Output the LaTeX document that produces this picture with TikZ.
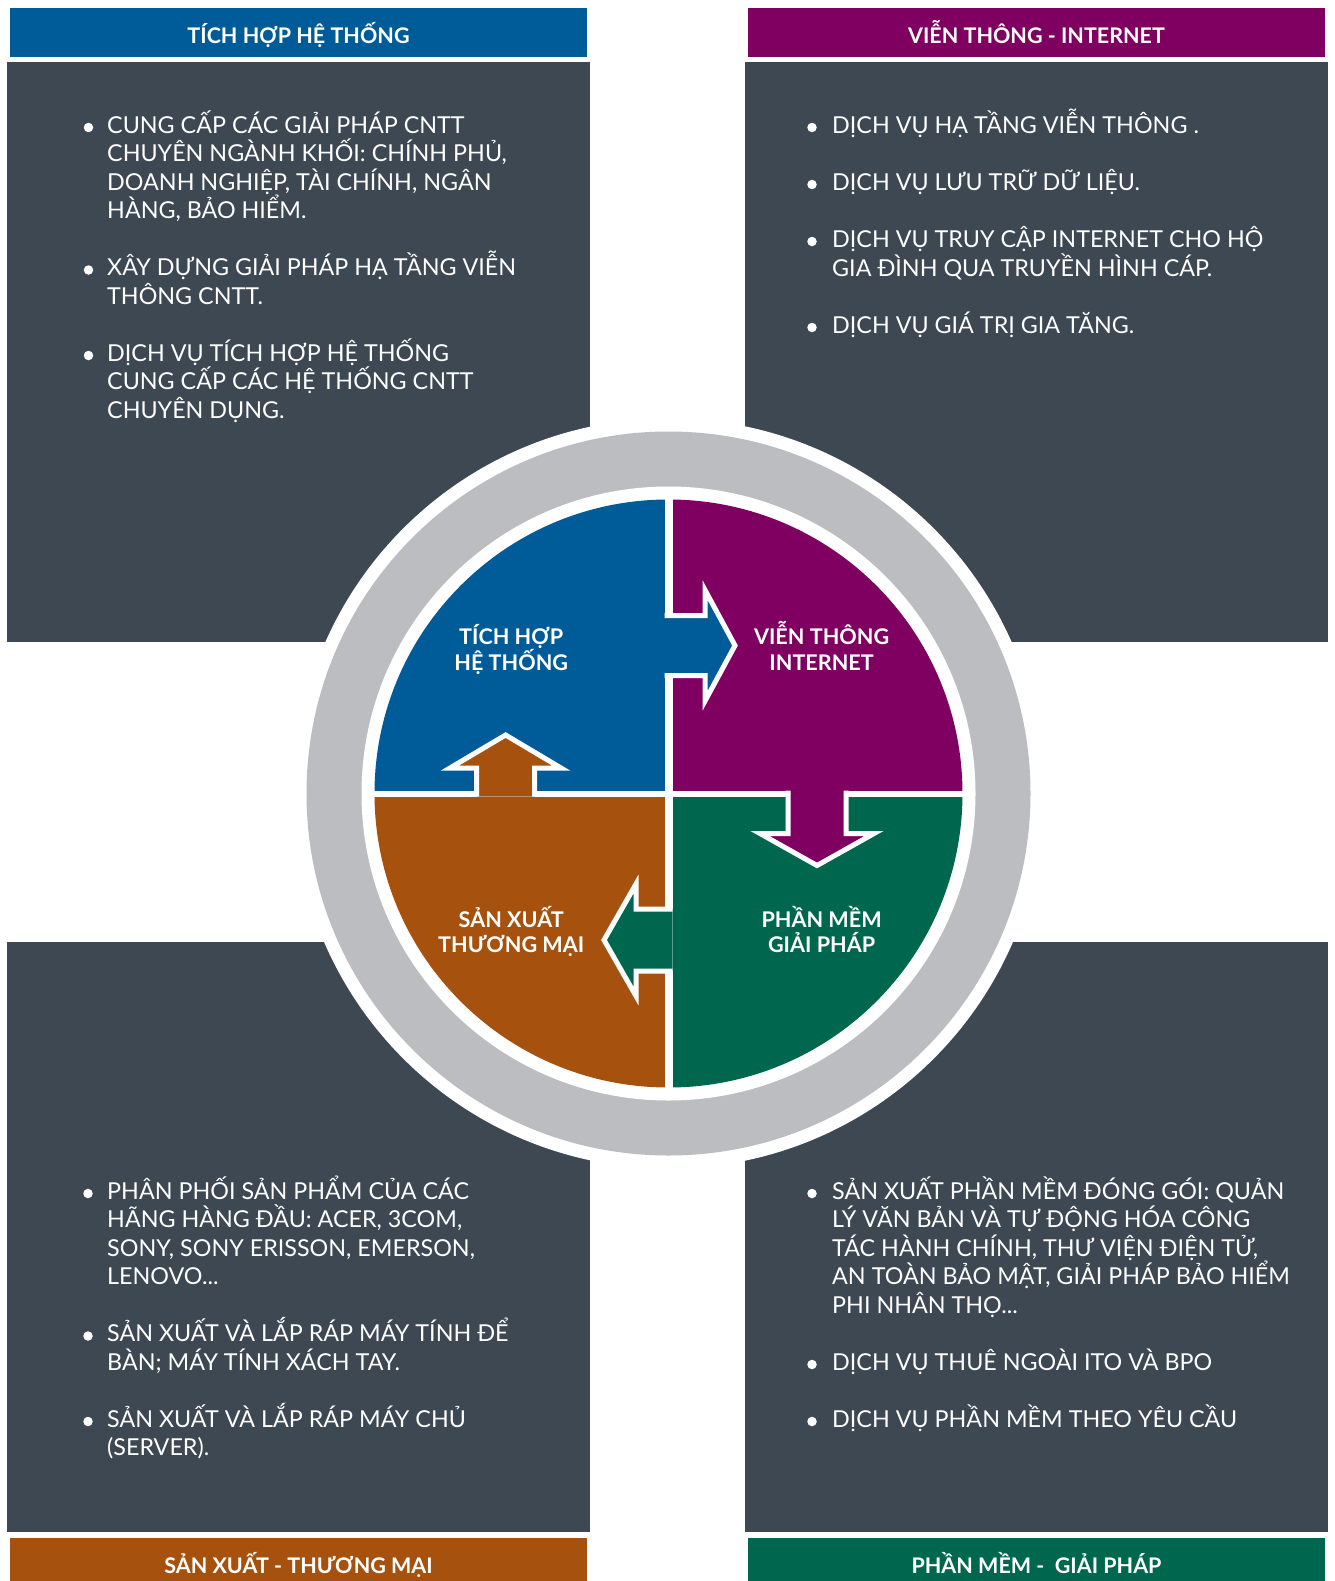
\documentclass[tikz,border=0pt]{standalone}
\usepackage{fontspec}
\setmainfont{Lato}
\definecolor{thblue}{RGB}{0,92,152}
\definecolor{thpurple}{RGB}{127,0,97}
\definecolor{thorange}{RGB}{166,82,14}
\definecolor{thgreen}{RGB}{0,103,79}
\definecolor{thdark}{RGB}{61,72,83}
\definecolor{thgray}{RGB}{188,189,192}
\begin{document}
\begin{tikzpicture}[x=1pt,y=-1pt,
	panel/.style={fill=thdark},
	dot/.style={circle,fill=white,inner sep=0pt,minimum size=9.5pt},
	body/.style={anchor=base west,align=left,text=white,inner sep=0pt,font=\fontsize{23.3}{28.5}\selectfont},
	head/.style={anchor=base,text=white,inner sep=0pt,font=\bfseries\fontsize{21.5}{24}\selectfont},
	lbl/.style={anchor=base,align=center,text=white,inner sep=0pt,font=\bfseries\fontsize{21.6}{25.7}\selectfont},
	arr/.style={draw=white,line width=5pt}]
	\useasboundingbox (0,0) rectangle (1334,1581);
	
	% die vier Felder
	\fill[panel] (7,62) rectangle (590,642);
	\fill[panel] (745,62) rectangle (1328,642);
	\fill[panel] (7,942) rectangle (590,1532);
	\fill[panel] (745,942) rectangle (1328,1532);
	
	% Kopfzeilen
	\fill[thblue] (10,8) rectangle (587,57);
	\fill[thpurple] (748,8) rectangle (1325,57);
	\fill[thorange] (10,1538) rectangle (587,1581);
	\fill[thgreen] (748,1538) rectangle (1325,1581);
	\node[head] (hTH) at (298.5,43.3) {TÍCH HỢP HỆ THỐNG};
	\node[head] (hVT) at (1036.5,43.3) {VIỄN THÔNG - INTERNET};
	\node[head] (hSX) at (298.5,1573.3) {SẢN XUẤT - THƯƠNG MẠI};
	\node[head] (hPM) at (1036.5,1573.3) {PHẦN MỀM -\ \ GIẢI PHÁP};
	
	% Ring
	\fill[white] (668.5,793.5) circle[radius=375pt];
	\fill[thgray] (668.5,793.5) circle[radius=362pt];
	\fill[white] (668.5,793.5) circle[radius=307pt];
	\begin{scope}
		\clip (668.5,793.5) circle[radius=294pt];
		\fill[thblue] (300,480) rectangle (664.5,790.5);
		\fill[thpurple] (672.5,480) rectangle (1040,790.5);
		\fill[thorange] (300,796.5) rectangle (664.5,1110);
		\fill[thgreen] (672.5,796.5) rectangle (1040,1110);
	\end{scope}
	
	% Pfeile
	\filldraw[arr,fill=thblue] (664.5,615.5) -- (705,615.5) -- (705,590) -- (735,645.5) -- (705,701) -- (705,675.5) -- (664.5,675.5);
	\filldraw[arr,fill=thpurple] (788,790.5) -- (788,833.5) -- (760,833.5) -- (817,865.5) -- (874,833.5) -- (846,833.5) -- (846,790.5);
	\filldraw[arr,fill=thgreen] (672.5,909) -- (636,909) -- (636,884) -- (604,940) -- (636,996) -- (636,971) -- (672.5,971);
	\filldraw[arr,fill=thorange] (476.5,796.5) -- (476.5,768) -- (450,768) -- (505.6,735) -- (561,768) -- (534.7,768) -- (534.7,796.5);
	
	% base = letzte Zeile
	\node[lbl] (qTH) at (511.2,670) {TÍCH HỢP\\HỆ THỐNG};
	\node[lbl] (qVT) at (821.6,670) {VIỄN THÔNG\\INTERNET};
	\node[lbl] (qSX) at (511.2,952.7) {SẢN XUẤT\\THƯƠNG MẠI};
	\node[lbl] (qPM) at (821.6,952.7) {PHẦN MỀM\\GIẢI PHÁP};
	
	% Aufzaehlungen
	\foreach \y [count=\i] in {127.5,270,355.5} \node[dot] (tlb\i) at (88.5,\y) {};
	\foreach \y [count=\i] in {127.5,184.5,241.5,327.5} \node[dot] (trb\i) at (812,\y) {};
	\foreach \y [count=\i] in {1193.5,1336,1421.5} \node[dot] (blb\i) at (88,\y) {};
	\foreach \y [count=\i] in {1193.5,1364.5,1421.5} \node[dot] (brb\i) at (812,\y) {};
	
	\node[body] (tlt) at (107,418.3) {CUNG CẤP CÁC GIẢI PHÁP CNTT\\
		CHUYÊN NGÀNH KHỐI: CHÍNH PHỦ,\\
		DOANH NGHIỆP, TÀI CHÍNH, NGÂN\\
		HÀNG, BẢO HIỂM.\\[28.5pt]
		XÂY DỰNG GIẢI PHÁP HẠ TẦNG VIỄN\\
		THÔNG CNTT.\\[28.5pt]
		DỊCH VỤ TÍCH HỢP HỆ THỐNG\\
		CUNG CẤP CÁC HỆ THỐNG CNTT\\
		CHUYÊN DỤNG.};
	\node[body] (trt) at (832,333.3) {DỊCH VỤ HẠ TẦNG VIỄN THÔNG .\\[28.5pt]
		DỊCH VỤ LƯU TRỮ DỮ LIỆU.\\[28.5pt]
		DỊCH VỤ TRUY CẬP INTERNET CHO HỘ\\
		GIA ĐÌNH QUA TRUYỀN HÌNH CÁP.\\[28.5pt]
		DỊCH VỤ GIÁ TRỊ GIA TĂNG.};
	\node[body] (blt) at (107,1455.8) {PHÂN PHỐI SẢN PHẨM CỦA CÁC\\
		HÃNG HÀNG ĐẦU: ACER, 3COM,\\
		SONY, SONY ERISSON, EMERSON,\\
		LENOVO...\\[28.5pt]
		SẢN XUẤT VÀ LẮP RÁP MÁY TÍNH ĐỂ\\
		BÀN; MÁY TÍNH XÁCH TAY.\\[28.5pt]
		SẢN XUẤT VÀ LẮP RÁP MÁY CHỦ\\
		(SERVER).};
	\node[body] (brt) at (832,1427.3) {SẢN XUẤT PHẦN MỀM ĐÓNG GÓI: QUẢN\\
		LÝ VĂN BẢN VÀ TỰ ĐỘNG HÓA CÔNG\\
		TÁC HÀNH CHÍNH, THƯ VIỆN ĐIỆN TỬ,\\
		AN TOÀN BẢO MẬT, GIẢI PHÁP BẢO HIỂM\\
		PHI NHÂN THỌ...\\[28.5pt]
		DỊCH VỤ THUÊ NGOÀI ITO VÀ BPO\\[28.5pt]
		DỊCH VỤ PHẦN MỀM THEO YÊU CẦU};
\end{tikzpicture}
\end{document}
